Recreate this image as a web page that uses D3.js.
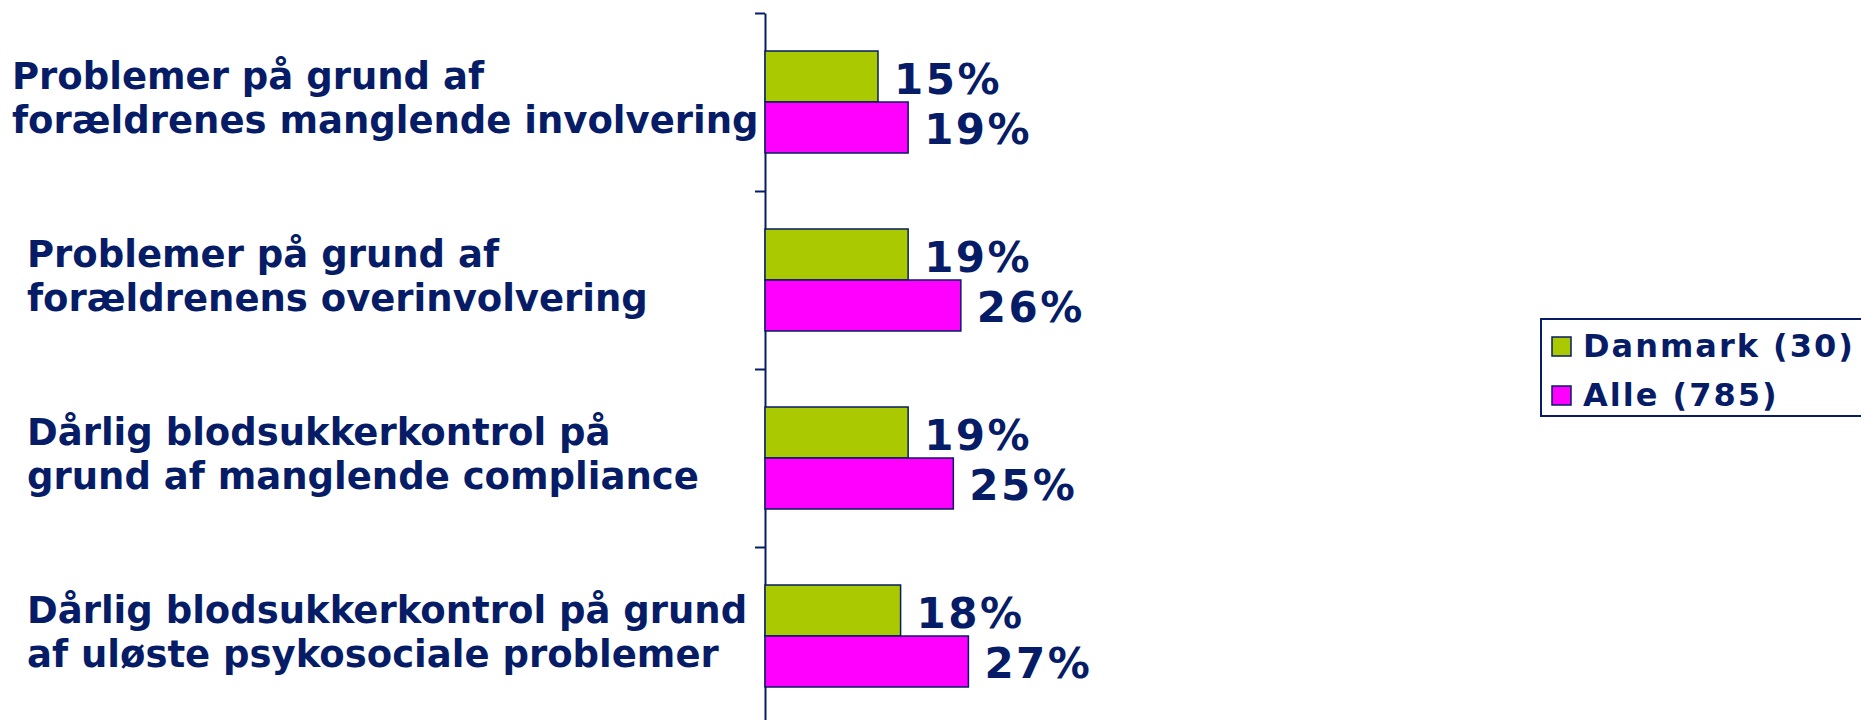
<!DOCTYPE html>
<html><head><meta charset="utf-8">
<script src="https://cdn.jsdelivr.net/npm/d3@7/dist/d3.min.js"></script>
<style>html,body{margin:0;padding:0;background:#fff;overflow:hidden}</style>
</head><body>
<script>
const categories = [
  ["Problemer på grund af", "forældrenes manglende involvering"],
  ["Problemer på grund af", "forældrenens overinvolvering"],
  ["Dårlig blodsukkerkontrol på", "grund af manglende compliance"],
  ["Dårlig blodsukkerkontrol på grund", "af uløste psykosociale problemer"]
];
const seriesNames = ["Danmark (30)", "Alle (785)"];
const danmark = [15, 19, 19, 18];
const alle = [19, 26, 25, 27];

const W = 1861, H = 720;
const navy = "#061c66";
const colors = ["#aac900", "#ff00ff"];
const font = "'DejaVu Sans', Verdana, sans-serif";

const svg = d3.select("body").append("svg").attr("width", W).attr("height", H);

const axisX = 765, plotTop = 13, step = 178;
const y = d3.scaleBand().domain(d3.range(categories.length))
  .range([plotTop, plotTop + step * categories.length]).paddingInner(0.427).paddingOuter(0.2135);
const ySub = d3.scaleBand().domain([0, 1]).range([0, y.bandwidth()]);
const x = d3.scaleLinear().domain([0, 30]).range([axisX, axisX + 226]);

const yBound = d3.scaleLinear().domain([0, categories.length]).range([plotTop, plotTop + step * categories.length]);
const ax = svg.append("g").attr("transform", `translate(${axisX},0)`)
  .call(d3.axisLeft(yBound).tickValues(d3.range(categories.length + 1)).tickFormat("").tickSize(10).tickSizeOuter(0));
ax.selectAll("path,line").attr("stroke", navy).attr("stroke-width", 2);

const series = [danmark, alle];
series.forEach((vals, si) => {
  const g = svg.append("g");
  g.selectAll("rect").data(vals).join("rect")
    .attr("x", x(0)).attr("y", (d, i) => y(i) + ySub(si))
    .attr("width", d => x(d) - x(0)).attr("height", ySub.bandwidth())
    .attr("fill", colors[si]).attr("stroke", navy).attr("stroke-width", 1.5);
  g.selectAll("text").data(vals).join("text")
    .attr("x", d => x(d) + 16).attr("y", (d, i) => y(i) + ySub(si) + ySub.bandwidth() / 2 + 17)
    .attr("font-family", font).attr("font-weight", "bold").attr("font-size", 42)
    .attr("letter-spacing", 2.5).attr("fill", navy).text(d => d + "%");
});

categories.forEach((lines, i) => {
  const cy = y(i) + y.bandwidth() / 2;
  const t = svg.append("text").attr("font-family", font).attr("font-weight", "bold")
    .attr("font-size", 37).attr("fill", navy);
  lines.forEach((ln, k) => {
    t.append("tspan").attr("x", 27).attr("y", cy + 9 + (k - (lines.length - 1) / 2) * 44).text(ln);
  });
  const w = t.node().getBBox().width;
  const xs = Math.max(12, Math.min(27, axisX - 13 - w));
  t.selectAll("tspan").attr("x", xs);
});

// legend
const lg = svg.append("g").attr("transform", "translate(1541,319)");
lg.append("rect").attr("x", 0).attr("y", 0).attr("width", 340).attr("height", 97)
  .attr("fill", "#fff").attr("stroke", navy).attr("stroke-width", 2);
seriesNames.forEach((n, i) => {
  lg.append("rect").attr("x", 11).attr("y", 18 + i * 49).attr("width", 19).attr("height", 19)
    .attr("fill", colors[i]).attr("stroke", navy).attr("stroke-width", 1.5);
  lg.append("text").attr("x", 42).attr("y", 38 + i * 49)
    .attr("font-family", font).attr("font-weight", "bold").attr("font-size", 32)
    .attr("letter-spacing", 2).attr("fill", navy).text(n);
});
</script>
</body></html>
